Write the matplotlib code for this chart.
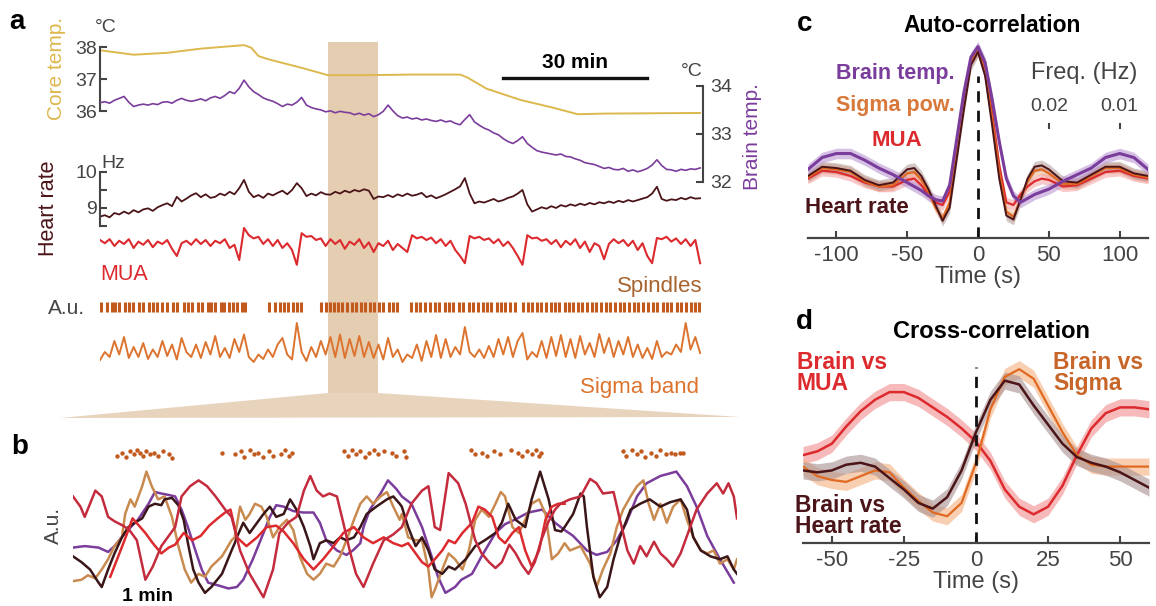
import numpy as np
import matplotlib.pyplot as plt
from matplotlib.patches import Polygon

plt.rcParams['font.family'] = ['Liberation Sans', 'DejaVu Sans']
plt.rcParams['axes.unicode_minus'] = False

# ---------------- panel a: ~2 h recording, one value per minute ----------------
t_a = np.arange(126)  # minutes

core_t = [0, 3, 7, 14, 21, 30, 31.5, 33, 35, 42, 47.5, 55, 65, 75, 76.5, 80.5, 87.5, 94.5, 99.5, 105, 115, 125]
core_v = [37.90, 37.84, 37.76, 37.82, 37.95, 38.06, 37.98, 37.72, 37.62, 37.35, 37.12, 37.12, 37.14, 37.14,
          37.05, 36.70, 36.35, 36.10, 35.90, 35.92, 35.93, 35.94]

brain_temp = [33.65, 33.67, 33.64, 33.70, 33.74, 33.78, 33.66, 33.57, 33.60, 33.62, 33.60,
              33.63, 33.61, 33.66, 33.67, 33.64, 33.70, 33.74, 33.70, 33.68, 33.70,
              33.73, 33.69, 33.75, 33.78, 33.74, 33.80, 33.88, 33.84, 33.95, 34.12,
              33.98, 33.88, 33.82, 33.75, 33.71, 33.68, 33.63, 33.57, 33.62, 33.60,
              33.66, 33.76, 33.60, 33.55, 33.52, 33.50, 33.46, 33.48, 33.44, 33.47,
              33.45, 33.44, 33.40, 33.43, 33.39, 33.42, 33.36, 33.40, 33.47, 33.60,
              33.48, 33.38, 33.33, 33.35, 33.31, 33.33, 33.29, 33.31, 33.28, 33.26,
              33.29, 33.25, 33.27, 33.22, 33.19, 33.30, 33.40, 33.25, 33.18, 33.12,
              33.08, 33.02, 32.98, 32.90, 32.84, 32.80, 32.86, 32.94, 32.80, 32.72,
              32.65, 32.62, 32.60, 32.58, 32.56, 32.58, 32.53, 32.52, 32.48, 32.45,
              32.40, 32.38, 32.36, 32.32, 32.28, 32.30, 32.26, 32.25, 32.28, 32.22,
              32.25, 32.21, 32.24, 32.28, 32.35, 32.46, 32.34, 32.26, 32.25, 32.22,
              32.26, 32.24, 32.27, 32.26, 32.29]

heart_rate = [8.76, 8.80, 8.74, 8.86, 8.82, 8.90, 8.84, 8.94, 8.88, 8.96, 8.99,
              8.92, 9.02, 9.08, 9.13, 9.05, 9.31, 9.18, 9.26, 9.35, 9.41,
              9.30, 9.38, 9.28, 9.31, 9.40, 9.35, 9.45, 9.38, 9.55, 9.78,
              9.45, 9.30, 9.36, 9.28, 9.40, 9.35, 9.42, 9.48, 9.38, 9.50,
              9.69, 9.55, 9.33, 9.40, 9.35, 9.44, 9.38, 9.37, 9.45, 9.40,
              9.48, 9.43, 9.50, 9.46, 9.52, 9.48, 9.25, 9.32, 9.30, 9.36,
              9.30, 9.38, 9.33, 9.40, 9.34, 9.37, 9.42, 9.30, 9.35, 9.27,
              9.32, 9.38, 9.45, 9.52, 9.60, 9.83, 9.40, 9.13, 9.18, 9.15,
              9.20, 9.25, 9.18, 9.22, 9.28, 9.32, 9.40, 9.50, 9.10, 8.90,
              8.96, 9.02, 8.98, 9.05, 9.00, 9.08, 9.04, 9.10, 9.06, 9.12,
              9.08, 9.14, 9.10, 9.16, 9.13, 9.18, 9.14, 9.20, 9.16, 9.22,
              9.18, 9.22, 9.26, 9.30, 9.40, 9.59, 9.25, 9.20, 9.24, 9.22,
              9.28, 9.24, 9.30, 9.26, 9.27]

mua_a = [0.70, 0.62, 0.72, 0.55, 0.68, 0.60, 0.72, 0.50, 0.66, 0.58, 0.70,
         0.52, 0.66, 0.60, 0.70, 0.48, 0.30, 0.62, 0.68, 0.58, 0.72,
         0.60, 0.70, 0.55, 0.68, 0.62, 0.72, 0.50, 0.58, 0.20, 1.00,
         0.82, 0.74, 0.78, 0.60, 0.72, 0.55, 0.70, 0.50, 0.62, 0.45,
         0.08, 0.87, 0.78, 0.80, 0.70, 0.74, 0.55, 0.72, 0.60, 0.70,
         0.48, 0.66, 0.58, 0.72, 0.50, 0.64, 0.40, 0.62, 0.55, 0.68,
         0.45, 0.60, 0.50, 0.40, 0.82, 0.74, 0.78, 0.70, 0.76, 0.62,
         0.72, 0.55, 0.68, 0.45, 0.30, 0.12, 0.80, 0.74, 0.78, 0.70,
         0.74, 0.62, 0.72, 0.55, 0.66, 0.50, 0.30, 0.08, 0.82, 0.74,
         0.76, 0.68, 0.72, 0.60, 0.70, 0.52, 0.68, 0.58, 0.72, 0.50,
         0.66, 0.40, 0.62, 0.55, 0.22, 0.60, 0.72, 0.62, 0.70, 0.55,
         0.68, 0.45, 0.62, 0.30, 0.12, 0.75, 0.72, 0.78, 0.66, 0.74,
         0.60, 0.72, 0.55, 0.70, 0.12]

sigma_a = [0.24, 0.40, 0.30, 0.62, 0.35, 0.70, 0.28, 0.50, 0.30, 0.58, 0.26,
           0.45, 0.30, 0.62, 0.32, 0.55, 0.25, 0.68, 0.40, 0.30, 0.55,
           0.28, 0.60, 0.35, 0.72, 0.30, 0.48, 0.28, 0.66, 0.40, 0.75,
           0.30, 0.20, 0.35, 0.26, 0.45, 0.30, 0.55, 0.68, 0.35, 0.25,
           0.98, 0.40, 0.22, 0.50, 0.30, 0.62, 0.35, 0.70, 0.30, 0.75,
           0.28, 0.66, 0.32, 0.72, 0.30, 0.60, 0.28, 0.55, 0.25, 0.68,
           0.30, 0.45, 0.20, 0.35, 0.28, 0.55, 0.22, 0.62, 0.30, 0.74,
           0.28, 0.66, 0.30, 0.50, 0.35, 0.90, 0.40, 0.30, 0.45, 0.28,
           0.52, 0.30, 0.66, 0.35, 0.70, 0.30, 0.62, 0.78, 0.25, 0.40,
           0.30, 0.62, 0.28, 0.70, 0.32, 0.74, 0.30, 0.66, 0.28, 0.72,
           0.35, 0.58, 0.30, 0.76, 0.38, 0.68, 0.30, 0.62, 0.35, 0.70,
           0.30, 0.55, 0.28, 0.48, 0.26, 0.62, 0.30, 0.40, 0.35, 0.55,
           0.40, 0.98, 0.45, 0.70, 0.38]

spindles_a = [0.3, 1.5, 2.4, 3.1, 4.0, 5.2, 6.0, 6.8, 8.1, 9.0, 10.2, 11.0, 11.8, 13.0, 13.9, 15.2,
              16.0, 17.5, 18.3, 19.1, 20.5, 21.3, 22.4, 23.2, 24.0, 25.1, 25.9, 26.8, 27.7, 28.6,
              29.5, 30.3,
              35.2, 36.5, 37.4, 38.3, 39.2, 40.1, 41.0, 41.8,
              46.0, 47.0, 47.9, 48.8, 49.6, 50.5, 51.5, 52.4, 53.3, 54.4, 55.3, 56.2, 57.0, 58.2,
              59.0, 60.1, 61.0, 61.8,
              64.8, 65.9, 66.7, 67.6, 68.8, 69.7, 70.6, 71.8, 72.7, 73.6, 74.8, 75.7, 76.8, 77.6,
              78.8, 79.7, 80.6, 81.5, 82.6, 83.5, 84.4, 85.4, 86.5,
              88.2, 89.1, 90.0, 91.0, 91.9, 92.8, 93.9, 94.8, 95.7, 96.8, 97.7, 98.6, 99.6, 100.5,
              101.4, 102.5, 103.4, 104.3, 105.4, 106.3, 107.2, 108.3, 109.2, 110.1, 111.2, 112.1,
              113.0, 114.2, 115.1, 116.0, 117.2, 118.1, 119.0, 120.1, 121.0, 122.0, 123.1, 124.0, 124.8]

band_start, band_end = 47.5, 57.9   # minutes zoomed in panel b

# ---------------- panel b: zoom (seconds, arbitrary units) ----------------
b_brain_t = [0, 11, 24, 33, 39, 49, 61, 71, 77, 83, 90, 96, 102, 108, 115, 121, 127, 137, 146, 154,
             160, 169, 179, 185, 191, 198, 207, 216, 226, 232, 238, 248, 257, 263, 270, 273, 279, 289,
             296, 304, 309, 318, 328, 337, 343, 350, 359, 365, 375, 384, 397, 406, 415, 428, 441, 453,
             462, 470, 483, 492, 502, 511, 520, 530, 539, 552, 567, 577, 586, 596, 608, 621]
b_brain_v = [0.40, 0.41, 0.40, 0.37, 0.41, 0.50, 0.59, 0.70, 0.78, 0.77, 0.76, 0.75, 0.66, 0.54, 0.38,
             0.25, 0.16, 0.14, 0.12, 0.13, 0.18, 0.32, 0.50, 0.61, 0.69, 0.68, 0.65, 0.64, 0.64, 0.57,
             0.45, 0.38, 0.35, 0.38, 0.43, 0.54, 0.66, 0.77, 0.86, 0.80, 0.75, 0.70, 0.54, 0.34, 0.20,
             0.09, 0.13, 0.18, 0.22, 0.34, 0.50, 0.56, 0.59, 0.64, 0.66, 0.57, 0.52, 0.48, 0.38, 0.35,
             0.37, 0.45, 0.57, 0.75, 0.84, 0.89, 0.92, 0.82, 0.68, 0.48, 0.32, 0.16]

b_heart_t = [0, 8, 16, 24, 27, 33, 39, 46, 52, 58, 65, 71, 77, 83, 86, 93, 99, 104, 108, 113, 118, 124,
             130, 140, 149, 152, 154, 160, 166, 173, 179, 185, 191, 198, 204, 210, 217, 223, 226, 232,
             238, 245, 251, 257, 264, 270, 276, 285, 295, 301, 307, 309, 315, 322, 328, 334, 340, 347,
             353, 359, 369, 378, 387, 397, 403, 409, 416, 425, 431, 439, 447, 453, 459, 462, 470, 477,
             480, 483, 489, 495, 502, 508, 514, 524, 533, 542, 552, 561, 571, 577, 583, 590, 599, 608,
             615, 621, 624]
b_heart_v = [0.34, 0.30, 0.25, 0.16, 0.13, 0.25, 0.36, 0.47, 0.54, 0.57, 0.60, 0.68, 0.70, 0.69, 0.73,
             0.74, 0.69, 0.59, 0.43, 0.25, 0.16, 0.09, 0.13, 0.22, 0.38, 0.43, 0.47, 0.57, 0.50, 0.57,
             0.63, 0.68, 0.61, 0.63, 0.73, 0.66, 0.54, 0.41, 0.32, 0.43, 0.45, 0.43, 0.47, 0.45, 0.47,
             0.54, 0.63, 0.68, 0.73, 0.75, 0.70, 0.68, 0.54, 0.41, 0.47, 0.38, 0.25, 0.22, 0.27, 0.25,
             0.32, 0.41, 0.45, 0.50, 0.57, 0.70, 0.59, 0.54, 0.73, 0.92, 0.73, 0.52, 0.51, 0.54, 0.63,
             0.77, 0.75, 0.54, 0.20, 0.06, 0.13, 0.32, 0.47, 0.66, 0.70, 0.73, 0.68, 0.71, 0.73, 0.66,
             0.47, 0.38, 0.34, 0.32, 0.34, 0.25, 0.22]

b_sigma_t = [0, 8, 14, 21, 27, 33, 39, 46, 49, 54, 58, 65, 69, 74, 80, 86, 93, 99, 105, 111, 118, 124,
             130, 140, 149, 152, 157, 162, 166, 171, 177, 182, 188, 194, 201, 207, 213, 220, 226, 232,
             238, 245, 251, 257, 264, 270, 276, 282, 289, 295, 301, 307, 309, 315, 322, 328, 334, 337,
             340, 347, 353, 359, 366, 372, 378, 384, 391, 397, 402, 406, 413, 419, 425, 431, 438, 444,
             450, 456, 462, 467, 477, 486, 492, 498, 505, 511, 517, 524, 530, 536, 541, 546, 552, 558,
             564, 571, 577, 583, 590, 596, 602, 608, 615, 621, 624]
b_sigma_v = [0.17, 0.18, 0.21, 0.19, 0.25, 0.32, 0.41, 0.47, 0.63, 0.73, 0.68, 0.82, 0.92, 0.82, 0.73,
             0.75, 0.61, 0.41, 0.25, 0.16, 0.22, 0.20, 0.27, 0.34, 0.45, 0.47, 0.68, 0.59, 0.63, 0.70,
             0.68, 0.61, 0.47, 0.54, 0.59, 0.52, 0.34, 0.22, 0.18, 0.22, 0.29, 0.27, 0.34, 0.45, 0.59,
             0.70, 0.75, 0.70, 0.75, 0.78, 0.68, 0.59, 0.63, 0.47, 0.45, 0.45, 0.25, 0.06, 0.11, 0.25,
             0.36, 0.32, 0.25, 0.38, 0.59, 0.66, 0.61, 0.70, 0.78, 0.75, 0.54, 0.50, 0.59, 0.70, 0.73,
             0.63, 0.32, 0.36, 0.43, 0.38, 0.41, 0.29, 0.13, 0.25, 0.36, 0.54, 0.66, 0.75, 0.82, 0.86,
             0.70, 0.59, 0.70, 0.57, 0.68, 0.73, 0.59, 0.47, 0.38, 0.36, 0.38, 0.29, 0.32, 0.25, 0.32]

b_mua1_t = [0, 7, 11, 16, 21, 27, 33, 39, 47, 53, 60, 68, 75, 83, 90, 96, 102, 110, 118, 126, 134, 143,
            149, 157, 166, 179, 188, 194, 202, 210, 217, 223, 229, 235, 241, 248, 254, 260, 266, 273,
            282, 292, 301, 309, 318, 328, 334, 340, 345, 353, 362, 369, 378, 384, 391, 397, 403, 410,
            416, 422, 428, 434, 440, 447, 453, 458, 467, 477, 486, 492, 498, 508, 514, 521, 527, 533,
            539, 546, 552, 558, 564, 571, 580, 586, 596, 605, 611, 616, 621, 624]
b_mua1_v = [0.75, 0.68, 0.61, 0.70, 0.79, 0.75, 0.61, 0.58, 0.55, 0.52, 0.45, 0.18, 0.27, 0.41, 0.48,
            0.54, 0.75, 0.82, 0.86, 0.82, 0.75, 0.66, 0.61, 0.38, 0.22, 0.06, 0.25, 0.50, 0.57, 0.61,
            0.79, 0.89, 0.79, 0.75, 0.77, 0.75, 0.57, 0.38, 0.22, 0.13, 0.29, 0.45, 0.49, 0.54, 0.70,
            0.79, 0.82, 0.54, 0.52, 0.91, 0.84, 0.70, 0.45, 0.36, 0.30, 0.26, 0.30, 0.42, 0.36, 0.28,
            0.22, 0.30, 0.45, 0.58, 0.66, 0.70, 0.73, 0.75, 0.87, 0.84, 0.77, 0.78, 0.59, 0.38, 0.29,
            0.41, 0.34, 0.44, 0.36, 0.32, 0.27, 0.36, 0.54, 0.66, 0.77, 0.84, 0.77, 0.84, 0.75, 0.60]

b_mua2_t = [35, 42, 50, 56, 62, 68, 75, 83, 90, 96, 104, 112, 120, 128, 136, 143, 148, 154, 163, 173,
            182, 191, 198, 207, 217, 226, 235, 245, 254, 264, 273, 282, 292, 301, 309, 315, 322, 328,
            334, 340, 347, 353, 359, 366, 375, 381, 387, 394, 400, 406, 413, 419, 425, 431, 438, 444,
            450, 456, 462]
b_mua2_v = [0.20, 0.33, 0.48, 0.60, 0.55, 0.50, 0.43, 0.36, 0.40, 0.42, 0.50, 0.45, 0.48, 0.55, 0.60,
            0.64, 0.66, 0.47, 0.41, 0.47, 0.54, 0.55, 0.51, 0.43, 0.32, 0.25, 0.32, 0.41, 0.50, 0.54,
            0.47, 0.43, 0.47, 0.43, 0.41, 0.43, 0.36, 0.30, 0.27, 0.32, 0.38, 0.45, 0.43, 0.50, 0.57,
            0.68, 0.66, 0.61, 0.47, 0.43, 0.50, 0.54, 0.38, 0.27, 0.38, 0.59, 0.68, 0.70, 0.70]

b_spin_t = [41, 46, 50, 54, 57, 60, 63, 66, 69, 72, 76, 80, 85, 90, 93,
            140, 152, 158, 161, 166, 170, 174, 179, 184, 188, 195, 199, 203, 206,
            255, 258, 262, 266, 270, 274, 278, 283, 287, 292, 300, 304, 311, 313,
            374, 378, 384, 389, 396, 401, 412, 418, 422, 427, 431, 435, 438, 440,
            517, 520, 525, 530, 534, 538, 543, 548, 552, 557, 562, 566, 570, 573]
b_spin_v = [1.03, 1.05, 1.02, 1.06, 1.04, 1.07, 1.05, 1.03, 1.06, 1.04, 1.05, 1.03, 1.06, 1.04, 1.01,
            1.05, 1.04, 1.06, 1.02, 1.07, 1.04, 1.05, 1.02, 1.06, 1.03, 1.04, 1.07, 1.03, 1.05,
            1.06, 1.03, 1.07, 1.04, 1.06, 1.02, 1.05, 1.07, 1.04, 1.06, 1.05, 1.03, 1.06, 1.02,
            1.07, 1.04, 1.05, 1.03, 1.06, 1.04, 1.07, 1.05, 1.03, 1.06, 1.04, 1.07, 1.03, 1.05,
            1.06, 1.03, 1.07, 1.04, 1.06, 1.02, 1.05, 1.03, 1.07, 1.04, 1.05, 1.04, 1.05, 1.05]

# ---------------- panel c: auto-correlation ----------------
lags_c = [-120, -110, -100, -90, -80, -70, -60, -50, -45, -40, -35, -30, -25, -20, -15, -10, -5, 0,
          5, 10, 15, 20, 25, 30, 35, 40, 45, 50, 60, 70, 80, 90, 100, 110, 120]
ac_brain = [0.07, 0.16, 0.19, 0.19, 0.14, 0.08, 0.03, -0.03, -0.06, -0.09, -0.13, -0.16, -0.17, -0.05,
            0.30, 0.65, 0.92, 1.00, 0.88, 0.60, 0.28, 0.00, -0.13, -0.18, -0.15, -0.12, -0.10, -0.08,
            -0.02, 0.03, 0.08, 0.16, 0.19, 0.16, 0.07]
ac_sigma = [0.01, 0.08, 0.07, 0.05, -0.02, -0.06, -0.05, 0.04, 0.05, -0.01, -0.10, -0.22, -0.30, -0.18,
            0.20, 0.55, 0.88, 0.97, 0.80, 0.45, 0.05, -0.25, -0.29, -0.16, -0.02, 0.06, 0.07, 0.04,
            -0.04, -0.04, 0.02, 0.08, 0.08, 0.03, 0.01]
ac_mua = [0.00, 0.06, 0.05, 0.02, -0.03, -0.06, -0.06, -0.01, 0.00, -0.05, -0.12, -0.18, -0.20, -0.10,
          0.25, 0.60, 0.90, 0.97, 0.82, 0.50, 0.10, -0.18, -0.20, -0.12, -0.06, -0.02, 0.00, -0.01,
          -0.06, -0.05, 0.00, 0.05, 0.06, 0.02, 0.00]
ac_heart = [0.02, 0.09, 0.08, 0.06, -0.01, -0.05, -0.03, 0.07, 0.08, 0.02, -0.08, -0.20, -0.32, -0.22,
            0.15, 0.52, 0.86, 0.96, 0.78, 0.40, 0.00, -0.28, -0.31, -0.16, 0.00, 0.09, 0.10, 0.07,
            -0.02, -0.03, 0.03, 0.09, 0.09, 0.04, 0.02]
ac_err = 0.04

# ---------------- panel d: cross-correlation ----------------
lags_d = [-60, -55, -50, -45, -40, -35, -30, -25, -20, -15, -10, -5, 0, 5, 10, 15, 20, 25, 30, 35,
          40, 45, 50, 55, 60]
cc_mua = [-0.04, -0.02, 0.02, 0.11, 0.19, 0.25, 0.29, 0.29, 0.26, 0.21, 0.16, 0.10, 0.03, -0.07,
          -0.22, -0.31, -0.35, -0.31, -0.20, -0.04, 0.10, 0.18, 0.21, 0.21, 0.20]
cc_sigma = [-0.10, -0.15, -0.17, -0.18, -0.15, -0.12, -0.13, -0.21, -0.28, -0.34, -0.36, -0.29, -0.08,
            0.20, 0.37, 0.41, 0.36, 0.22, 0.08, -0.04, -0.09, -0.10, -0.10, -0.10, -0.10]
cc_heart = [-0.12, -0.13, -0.12, -0.09, -0.08, -0.10, -0.16, -0.22, -0.29, -0.32, -0.26, -0.12, 0.08,
            0.25, 0.35, 0.33, 0.22, 0.12, 0.02, -0.05, -0.08, -0.10, -0.13, -0.17, -0.21]
cc_err = 0.045

# ---------------- colours ----------------
CORE = '#dcb84e'
BRAIN = '#7b3d9c'
HEART = '#4a1418'
MUA = '#dc2a2e'
MUA2 = '#c42c3e'
SPIN = '#c25a1e'
SIGMA = '#dc7430'
TAN = '#c98a50'
BAND = '#e5cdb2'
GREY = '#444444'

W, H = 1156, 606
fig = plt.figure(figsize=(W / 100, H / 100), dpi=100)


def box(x0, y0, x1, y1):
    # pixel box (origin top-left) -> figure fraction rect
    return [x0 / W, 1 - y1 / H, (x1 - x0) / W, (y1 - y0) / H]


def label(x, y, s, **kw):
    kw.setdefault('ha', 'center')
    kw.setdefault('va', 'center')
    fig.text(x / W, 1 - y / H, s, **kw)


def bare(ax):
    ax.set_facecolor('none')
    for sp in ax.spines.values():
        sp.set_visible(False)
    ax.set_xticks([])
    ax.set_yticks([])


# background in pixel coordinates for the zoom funnel
ax_bg = fig.add_axes([0, 0, 1, 1], zorder=0)
bare(ax_bg)
ax_bg.set_xlim(0, W)
ax_bg.set_ylim(H, 0)

# ---------------- panel a ----------------
XMAX_A = 125.6
ax_band = fig.add_axes(box(100, 42, 703, 393), zorder=1)
bare(ax_band)
ax_band.set_xlim(0, XMAX_A)
ax_band.set_ylim(0, 1)
ax_band.axvspan(band_start, band_end, color=BAND, lw=0)
bx = ax_band.transData.transform([(band_start, 0), (band_end, 0)])[:, 0]
ax_bg.add_patch(Polygon([(bx[0], 393), (bx[1], 393), (740, 417), (60, 418)],
                        closed=True, color=BAND, lw=0, alpha=0.85))

ax_core = fig.add_axes(box(100, 40, 703, 120), zorder=3)
ax_core.set_facecolor('none')
ax_core.plot(core_t, core_v, color=CORE, lw=1.4)
ax_core.set_xlim(0, XMAX_A)
ax_core.set_ylim(35.72, 38.22)
for s in ['top', 'right', 'bottom']:
    ax_core.spines[s].set_visible(False)
ax_core.spines['left'].set_bounds(36, 38)
ax_core.spines['left'].set_color(GREY)
ax_core.spines['left'].set_linewidth(1.5)
ax_core.set_xticks([])
ax_core.set_yticks([36, 37, 38])
ax_core.tick_params(axis='y', direction='in', length=5, width=1.5, colors=GREY, labelsize=14, pad=2)
# 30 min scale bar
ax_core.plot([84, 114], [37.03, 37.03], color='#111111', lw=2.4, clip_on=False)
ax_core.text(99, 37.52, '30 min', ha='center', va='center', fontsize=15, fontweight='bold')

ax_br = fig.add_axes(box(100, 60, 703, 190), zorder=3)
ax_br.set_facecolor('none')
ax_br.plot(t_a, brain_temp, color=BRAIN, lw=1.2)
ax_br.set_xlim(0, XMAX_A)
ax_br.set_ylim(31.83, 34.54)
for s in ['top', 'left', 'bottom']:
    ax_br.spines[s].set_visible(False)
ax_br.spines['right'].set_bounds(32, 34)
ax_br.spines['right'].set_color(GREY)
ax_br.spines['right'].set_linewidth(1.5)
ax_br.set_xticks([])
ax_br.yaxis.tick_right()
ax_br.set_yticks([32, 33, 34])
ax_br.tick_params(axis='y', direction='in', length=5, width=1.5, colors=GREY, labelsize=14, pad=5)

ax_hr = fig.add_axes(box(100, 150, 703, 235), zorder=3)
ax_hr.set_facecolor('none')
ax_hr.plot(t_a, heart_rate, color=HEART, lw=1.3)
ax_hr.set_xlim(0, XMAX_A)
ax_hr.set_ylim(8.25, 10.61)
for s in ['top', 'right', 'bottom']:
    ax_hr.spines[s].set_visible(False)
ax_hr.spines['left'].set_bounds(8.5, 10)
ax_hr.spines['left'].set_color(GREY)
ax_hr.spines['left'].set_linewidth(1.5)
ax_hr.set_xticks([])
ax_hr.set_yticks([8.5, 9, 9.5, 10])
ax_hr.set_yticklabels(['', '9', '', '10'])
ax_hr.tick_params(axis='y', direction='in', length=5, width=1.5, colors=GREY, labelsize=14, pad=2)

ax_mua = fig.add_axes(box(100, 222, 703, 272), zorder=3)
bare(ax_mua)
ax_mua.plot(t_a, mua_a, color=MUA, lw=1.5)
ax_mua.set_xlim(0, XMAX_A)
ax_mua.set_ylim(-0.1, 1.15)

ax_sp = fig.add_axes(box(100, 299, 703, 315), zorder=3)
bare(ax_sp)
ax_sp.eventplot(spindles_a, lineoffsets=0, linelengths=0.6, linewidths=2.2, colors=SPIN)
ax_sp.set_xlim(0, XMAX_A)
ax_sp.set_ylim(-0.5, 0.5)

ax_sig = fig.add_axes(box(100, 318, 703, 376), zorder=3)
bare(ax_sig)
ax_sig.plot(t_a, sigma_a, color=SIGMA, lw=1.4)
ax_sig.set_xlim(0, XMAX_A)
ax_sig.set_ylim(-0.08, 1.08)

label(17, 22, 'a', fontsize=20, fontweight='bold')
label(57, 68, 'Core temp.', rotation=90, color=CORE, fontsize=15)
label(106, 28, '°C', color=GREY, fontsize=14)
label(692, 71, '°C', color=GREY, fontsize=14)
label(752, 137, 'Brain temp.', rotation=90, color=BRAIN, fontsize=15)
label(113, 163, 'Hz', color=GREY, fontsize=14)
label(48, 208, 'Heart rate', rotation=90, color=HEART, fontsize=15.5)
label(100, 275, 'MUA', ha='left', color=MUA, fontsize=15.5)
label(67, 308, 'A.u.', color=GREY, fontsize=15)
label(702, 286, 'Spindles', ha='right', color='#a8642e', fontsize=16)
label(699, 388, 'Sigma band', ha='right', color=SIGMA, fontsize=16)

# ---------------- panel b ----------------
ax_b = fig.add_axes(box(73, 438, 737, 606), zorder=3)
bare(ax_b)
ax_b.plot(b_brain_t, b_brain_v, color=BRAIN, lw=1.8)
ax_b.plot(b_sigma_t, b_sigma_v, color=TAN, lw=1.8)
ax_b.plot(b_heart_t, b_heart_v, color='#3a1618', lw=1.8)
ax_b.plot(b_mua2_t, b_mua2_v, color=MUA, lw=1.8)
ax_b.plot(b_mua1_t, b_mua1_v, color=MUA2, lw=1.8)
ax_b.scatter(b_spin_t, b_spin_v, s=10, color=SPIN, lw=0)
ax_b.set_xlim(0, 624)
ax_b.set_ylim(0, 1.15)

label(20, 447, 'b', fontsize=20, fontweight='bold')
label(53, 525, 'A.u.', rotation=90, color=GREY, fontsize=15)
label(147, 605, '1 min', va='bottom', fontsize=14, fontweight='bold')

# ---------------- panel c ----------------
ax_c = fig.add_axes(box(808, 40, 1148, 238), zorder=3)
ax_c.set_facecolor('none')
for s in ['top', 'right', 'left']:
    ax_c.spines[s].set_visible(False)
ax_c.spines['bottom'].set_color(GREY)
ax_c.spines['bottom'].set_linewidth(1.6)
lc = np.array(lags_c)
for vals, band_col, alpha in [(ac_sigma, '#f0a070', 0.45), (ac_mua, '#f08c8c', 0.45),
                              (ac_heart, '#a89090', 0.5), (ac_brain, '#b58fd0', 0.55)]:
    v = np.array(vals)
    ax_c.fill_between(lc, v - ac_err, v + ac_err, color=band_col, alpha=alpha, lw=0)
ax_c.plot(lc, ac_mua, color=MUA, lw=1.6)
ax_c.plot(lc, ac_sigma, color='#e06a22', lw=1.6)
ax_c.plot(lc, ac_heart, color=HEART, lw=1.4)
ax_c.plot(lc, ac_brain, color=BRAIN, lw=2.2)
ax_c.axvline(0, ymin=0, ymax=0.82, color='#111111', lw=2, dashes=(4, 3))
ax_c.set_xlim(-120, 120)
ax_c.set_ylim(-0.45, 1.05)
ax_c.set_yticks([])
ax_c.set_xticks([-100, -50, 0, 50, 100])
ax_c.tick_params(axis='x', direction='in', length=5, width=1.5, colors=GREY, labelsize=16, pad=5)
ax_c.set_xlabel('Time (s)', fontsize=17, color=GREY, labelpad=0)
sec = ax_c.secondary_xaxis(0.55)
for sp in sec.spines.values():
    sp.set_visible(False)
sec.set_xticks([50, 100])
sec.set_xticklabels(['0.02', '0.01'])
sec.tick_params(axis='x', direction='out', length=4, width=1.5, colors=GREY, labelsize=14, pad=6)

label(805, 24, 'c', fontsize=20, fontweight='bold')
label(992, 25, 'Auto-correlation', fontsize=16.5, fontweight='bold')
label(955, 73, 'Brain temp.', ha='right', color=BRAIN, fontsize=15.5, fontweight='bold')
label(955, 106, 'Sigma pow.', ha='right', color='#d8783a', fontsize=15.5, fontweight='bold')
label(922, 141, 'MUA', ha='right', color=MUA, fontsize=16, fontweight='bold')
label(805, 207, 'Heart rate', ha='left', color=HEART, fontsize=16, fontweight='bold')
label(1084, 73, 'Freq. (Hz)', color=GREY, fontsize=17)

# ---------------- panel d ----------------
ax_d = fig.add_axes(box(803, 352, 1149, 543), zorder=3)
ax_d.set_facecolor('none')
for s in ['top', 'right', 'left']:
    ax_d.spines[s].set_visible(False)
ax_d.spines['bottom'].set_color(GREY)
ax_d.spines['bottom'].set_linewidth(1.6)
ld = np.array(lags_d)
for vals, band_col, alpha in [(cc_mua, '#f08c8c', 0.6), (cc_sigma, '#f5b080', 0.6),
                              (cc_heart, '#a89090', 0.6)]:
    v = np.array(vals)
    ax_d.fill_between(ld, v - cc_err, v + cc_err, color=band_col, alpha=alpha, lw=0)
ax_d.plot(ld, cc_mua, color=MUA, lw=1.8)
ax_d.plot(ld, cc_sigma, color='#e06a22', lw=1.6)
ax_d.plot(ld, cc_heart, color=HEART, lw=1.8)
ax_d.axvline(0, ymin=0, ymax=0.92, color='#111111', lw=2, dashes=(4, 3))
ax_d.set_xlim(-60, 60)
ax_d.set_ylim(-0.5, 0.5)
ax_d.set_yticks([])
ax_d.set_xticks([-50, -25, 0, 25, 50])
ax_d.tick_params(axis='x', direction='in', length=5, width=1.5, colors=GREY, labelsize=16, pad=5)
ax_d.set_xlabel('Time (s)', fontsize=17, color=GREY, labelpad=0)

label(804, 322, 'd', fontsize=20, fontweight='bold')
label(992, 332, 'Cross-correlation', fontsize=17, fontweight='bold')
label(797, 373, 'Brain vs\nMUA', ha='left', color=MUA, fontsize=16.5, fontweight='bold',
      linespacing=0.85)
label(1053, 373, 'Brain vs\nSigma', ha='left', color='#c8662a', fontsize=16.5, fontweight='bold',
      linespacing=0.85)
label(795, 516, 'Brain vs\nHeart rate', ha='left', color=HEART, fontsize=16.5, fontweight='bold',
      linespacing=0.85)

fig.savefig('out.png', dpi=100)
